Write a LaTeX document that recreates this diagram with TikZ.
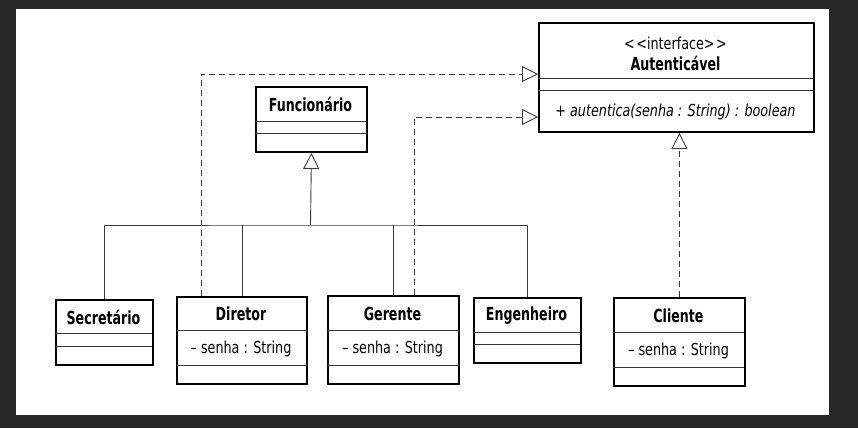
\documentclass[tikz,border=0pt]{standalone}
\usepackage{fontspec}
\setmainfont{DejaVu Sans Condensed}[FakeStretch=0.86]
\newfontfamily\namefont{DejaVu Sans Condensed}[FakeStretch=0.78]
\usetikzlibrary{arrows.meta}
\definecolor{bgdark}{HTML}{282828}
\definecolor{ln}{HTML}{3A3A3A}
\tikzset{
 cls/.style={draw=black, line width=1.9pt, anchor=north west, inner sep=0pt, fill=white},
 divl/.style={draw=black!80, line width=1pt},
 nm/.style={font=\namefont\bfseries\fontsize{18}{20}\selectfont, inner sep=0pt},
 attr/.style={font=\fontsize{16.5}{18}\selectfont, inner sep=0pt},
 mth/.style={font=\itshape\fontsize{16.5}{18}\selectfont, inner sep=0pt},
 tr/.style={draw=ln, line width=0.9pt},
 gen/.style={tr, -{Triangle[open, length=16pt, width=16pt, fill=white]}},
 realiz/.style={draw=ln, line width=0.9pt, dash pattern=on 6pt off 4pt, -{Triangle[open, length=16pt, width=16pt, fill=white]}},
}
\newcommand\umlcls[7]{%
 \node[cls, minimum width=#4pt-#2pt, minimum height=#5pt-#3pt] (#1) at (#2,#3) {};
 \draw[divl] (#2,#6) -- (#4,#6);
 \draw[divl] (#2,#7) -- (#4,#7);
}
\begin{document}
\begin{tikzpicture}[x=1pt,y=-1pt]
\fill[bgdark] (0,0) rectangle (858,428);
\fill[white] (16,9) rectangle (829,415);
\useasboundingbox (0,0) rectangle (858,428);

\umlcls{aut}{538}{22}{813}{131}{78}{90}
\node[attr] (autS) at (675.5,43) {<\kern1.5pt<interface>\kern1.5pt>};
\node[nm] (autN) at (675.5,63) {Autenticável};
\node[mth] (autM) at (675.5,112) {+ autentica(senha : String) : boolean};

\umlcls{func}{255}{86}{366}{151}{121}{133}
\node[nm] (funcN) at (310.5,104) {Funcionário};

\umlcls{sec}{55}{299}{152}{364}{333}{346}
\node[nm] (secN) at (103.5,317) {Secretário};

\umlcls{dir}{176}{296}{306}{383}{330}{365}
\node[nm] (dirN) at (241,314) {Diretor};
\node[attr] (dirA) at (241,349) {– senha : String};

\umlcls{ger}{327}{295}{458}{383}{330}{365}
\node[nm] (gerN) at (392.5,314) {Gerente};
\node[attr] (gerA) at (392.5,349) {– senha : String};

\umlcls{eng}{473}{297}{580}{362}{332}{344}
\node[nm] (engN) at (526.5,316) {Engenheiro};

\umlcls{cli}{613}{297}{744}{385}{332}{367}
\node[nm] (cliN) at (678.5,316) {Cliente};
\node[attr] (cliA) at (678.5,351) {– senha : String};

% generalization tree
\coordinate (j) at (310.5,225);
\draw[gen] (j) -- (func.south);
\draw[tr] (sec.north) |- (j) -| (eng.north);
\draw[tr] (dir.north) -- (dir.north |- j);
\draw[tr] (ger.north) -- (ger.north |- j);

% realizations
\draw[realiz] ([xshift=25pt]dir.north west) |- ([yshift=-52pt]aut.north west);
\draw[realiz] ([xshift=87pt]ger.north west) |- ([yshift=-95pt]aut.north west);
\draw[realiz] (cli.north) -- (cli.north |- aut.south);
\end{tikzpicture}
\end{document}
